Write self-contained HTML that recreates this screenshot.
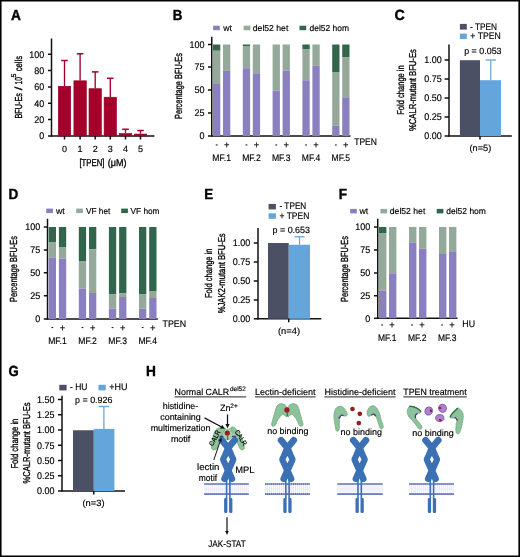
<!DOCTYPE html>
<html><head><meta charset="utf-8"><style>
html,body{margin:0;padding:0;background:#fff;}
svg{display:block;will-change:transform;}
text{font-family:"Liberation Sans", sans-serif;text-rendering:geometricPrecision;stroke:#000;stroke-width:0.16px;}
text.c{stroke-width:0.34px;}
</style></head><body>
<svg width="520" height="557" viewBox="0 0 520 557">
<rect width="520" height="557" fill="#fff"/>
<text x="11.1" y="19.8" font-size="14.6" font-weight="bold" fill="#000" textLength="9.9" lengthAdjust="spacingAndGlyphs" style="stroke-width:0.4px">A</text>
<line x1="51.5" y1="38.5" x2="51.5" y2="136.6" stroke="#111" stroke-width="1.5"/>
<line x1="50.9" y1="136" x2="154.5" y2="136" stroke="#111" stroke-width="1.5"/>
<line x1="48" y1="136" x2="51.5" y2="136" stroke="#111" stroke-width="1.5"/>
<text x="44.3" y="139.45" font-size="9.6" text-anchor="end" font-weight="normal" fill="#000" textLength="5.0" lengthAdjust="spacingAndGlyphs" >0</text>
<line x1="48" y1="119.5" x2="51.5" y2="119.5" stroke="#111" stroke-width="1.5"/>
<text x="44.3" y="122.95" font-size="9.6" text-anchor="end" font-weight="normal" fill="#000" textLength="10.01" lengthAdjust="spacingAndGlyphs" >20</text>
<line x1="48" y1="103.25" x2="51.5" y2="103.25" stroke="#111" stroke-width="1.5"/>
<text x="44.3" y="106.7" font-size="9.6" text-anchor="end" font-weight="normal" fill="#000" textLength="10.01" lengthAdjust="spacingAndGlyphs" >40</text>
<line x1="48" y1="87" x2="51.5" y2="87" stroke="#111" stroke-width="1.5"/>
<text x="44.3" y="90.45" font-size="9.6" text-anchor="end" font-weight="normal" fill="#000" textLength="10.01" lengthAdjust="spacingAndGlyphs" >60</text>
<line x1="48" y1="70.5" x2="51.5" y2="70.5" stroke="#111" stroke-width="1.5"/>
<text x="44.3" y="73.95" font-size="9.6" text-anchor="end" font-weight="normal" fill="#000" textLength="10.01" lengthAdjust="spacingAndGlyphs" >80</text>
<line x1="48" y1="54.25" x2="51.5" y2="54.25" stroke="#111" stroke-width="1.5"/>
<text x="44.3" y="57.7" font-size="9.6" text-anchor="end" font-weight="normal" fill="#000" textLength="15.01" lengthAdjust="spacingAndGlyphs" >100</text>
<rect x="58.30" y="86.30" width="12.4" height="49.70" fill="#A3002B" stroke="#93001F" stroke-width="0.6"/>
<line x1="64.5" y1="60.5" x2="64.5" y2="86" stroke="#A3002B" stroke-width="1.35"/>
<line x1="61.2" y1="60.5" x2="67.8" y2="60.5" stroke="#A3002B" stroke-width="1.5"/>
<line x1="64.5" y1="136" x2="64.5" y2="139.5" stroke="#111" stroke-width="1.5"/>
<text x="64.5" y="151.5" font-size="9" text-anchor="middle" font-weight="normal" fill="#000" >0</text>
<rect x="73.90" y="80.80" width="12.4" height="55.20" fill="#A3002B" stroke="#93001F" stroke-width="0.6"/>
<line x1="80.1" y1="53.75" x2="80.1" y2="80.5" stroke="#A3002B" stroke-width="1.35"/>
<line x1="76.8" y1="53.75" x2="83.39999999999999" y2="53.75" stroke="#A3002B" stroke-width="1.5"/>
<line x1="80.1" y1="136" x2="80.1" y2="139.5" stroke="#111" stroke-width="1.5"/>
<text x="80.1" y="151.5" font-size="9" text-anchor="middle" font-weight="normal" fill="#000" >1</text>
<rect x="89.00" y="88.70" width="12.4" height="47.30" fill="#A3002B" stroke="#93001F" stroke-width="0.6"/>
<line x1="95.2" y1="71.9" x2="95.2" y2="88.4" stroke="#A3002B" stroke-width="1.35"/>
<line x1="91.9" y1="71.9" x2="98.5" y2="71.9" stroke="#A3002B" stroke-width="1.5"/>
<line x1="95.2" y1="136" x2="95.2" y2="139.5" stroke="#111" stroke-width="1.5"/>
<text x="95.2" y="151.5" font-size="9" text-anchor="middle" font-weight="normal" fill="#000" >2</text>
<rect x="104.10" y="97.20" width="12.4" height="38.80" fill="#A3002B" stroke="#93001F" stroke-width="0.6"/>
<line x1="110.3" y1="78.3" x2="110.3" y2="96.9" stroke="#A3002B" stroke-width="1.35"/>
<line x1="107.0" y1="78.3" x2="113.6" y2="78.3" stroke="#A3002B" stroke-width="1.5"/>
<line x1="110.3" y1="136" x2="110.3" y2="139.5" stroke="#111" stroke-width="1.5"/>
<text x="110.3" y="151.5" font-size="9" text-anchor="middle" font-weight="normal" fill="#000" >3</text>
<rect x="119.30" y="133.55" width="12.4" height="2.45" fill="#A3002B" stroke="#93001F" stroke-width="0.6"/>
<line x1="125.5" y1="129.25" x2="125.5" y2="133.25" stroke="#A3002B" stroke-width="1.35"/>
<line x1="122.2" y1="129.25" x2="128.8" y2="129.25" stroke="#A3002B" stroke-width="1.5"/>
<line x1="125.5" y1="136" x2="125.5" y2="139.5" stroke="#111" stroke-width="1.5"/>
<text x="125.5" y="151.5" font-size="9" text-anchor="middle" font-weight="normal" fill="#000" >4</text>
<rect x="134.30" y="134.05" width="12.4" height="1.95" fill="#A3002B" stroke="#93001F" stroke-width="0.6"/>
<line x1="140.5" y1="130.5" x2="140.5" y2="133.75" stroke="#A3002B" stroke-width="1.35"/>
<line x1="137.2" y1="130.5" x2="143.8" y2="130.5" stroke="#A3002B" stroke-width="1.5"/>
<line x1="140.5" y1="136" x2="140.5" y2="139.5" stroke="#111" stroke-width="1.5"/>
<text x="140.5" y="151.5" font-size="9" text-anchor="middle" font-weight="normal" fill="#000" >5</text>
<text x="79.4" y="166" font-size="10" text-anchor="start" font-weight="normal" fill="#000" textLength="25.0" lengthAdjust="spacingAndGlyphs" class="c">[TPEN]</text>
<text x="107.8" y="166" font-size="10" text-anchor="start" font-weight="normal" fill="#000" textLength="18.6" lengthAdjust="spacingAndGlyphs" class="c">(μM)</text>
<text class="c" transform="translate(22.1,118.5) rotate(-90)" font-size="10.2" fill="#000" textLength="25.4" lengthAdjust="spacingAndGlyphs">BFU-Es</text>
<text class="c" transform="translate(22.1,90.2) rotate(-90)" font-size="10.2" fill="#000" textLength="3.6" lengthAdjust="spacingAndGlyphs">/</text>
<text class="c" transform="translate(22.1,84.4) rotate(-90)" font-size="10.2" fill="#000" textLength="7.4" lengthAdjust="spacingAndGlyphs">10</text>
<text class="c" transform="translate(16.0,77.6) rotate(-90)" font-size="6.6" fill="#000" textLength="3.8" lengthAdjust="spacingAndGlyphs">5</text>
<text class="c" transform="translate(22.1,71.3) rotate(-90)" font-size="10.2" fill="#000" textLength="15.4" lengthAdjust="spacingAndGlyphs">cells</text>
<text x="172.7" y="19.8" font-size="14.6" font-weight="bold" fill="#000" textLength="9.6" lengthAdjust="spacingAndGlyphs" style="stroke-width:0.4px">B</text>
<rect x="213.10" y="25.70" width="6.70" height="4.50" fill="#8A80C0"/>
<text x="223.2" y="30.6" font-size="8.6" text-anchor="start" font-weight="normal" fill="#000" textLength="8.7" lengthAdjust="spacingAndGlyphs" >wt</text>
<rect x="243.60" y="25.70" width="6.70" height="4.50" fill="#95A99A"/>
<text x="252.8" y="30.6" font-size="8.6" text-anchor="start" font-weight="normal" fill="#000" textLength="35.5" lengthAdjust="spacingAndGlyphs" >del52 het</text>
<rect x="299.50" y="25.70" width="6.70" height="4.50" fill="#32664C"/>
<text x="309.5" y="30.6" font-size="8.6" text-anchor="start" font-weight="normal" fill="#000" textLength="39.6" lengthAdjust="spacingAndGlyphs" >del52 hom</text>
<line x1="211.75" y1="36.75" x2="211.75" y2="136.6" stroke="#111" stroke-width="1.5"/>
<line x1="211.1" y1="136" x2="350.5" y2="136" stroke="#111" stroke-width="1.5"/>
<line x1="208" y1="136" x2="211.75" y2="136" stroke="#111" stroke-width="1.5"/>
<text x="204.6" y="139.45" font-size="9.6" text-anchor="end" font-weight="normal" fill="#000" textLength="5.0" lengthAdjust="spacingAndGlyphs" >0</text>
<line x1="208" y1="113" x2="211.75" y2="113" stroke="#111" stroke-width="1.5"/>
<text x="204.6" y="116.45" font-size="9.6" text-anchor="end" font-weight="normal" fill="#000" textLength="10.01" lengthAdjust="spacingAndGlyphs" >25</text>
<line x1="208" y1="90" x2="211.75" y2="90" stroke="#111" stroke-width="1.5"/>
<text x="204.6" y="93.45" font-size="9.6" text-anchor="end" font-weight="normal" fill="#000" textLength="10.01" lengthAdjust="spacingAndGlyphs" >50</text>
<line x1="208" y1="67" x2="211.75" y2="67" stroke="#111" stroke-width="1.5"/>
<text x="204.6" y="70.45" font-size="9.6" text-anchor="end" font-weight="normal" fill="#000" textLength="10.01" lengthAdjust="spacingAndGlyphs" >75</text>
<line x1="208" y1="44.5" x2="211.75" y2="44.5" stroke="#111" stroke-width="1.5"/>
<text x="204.6" y="47.95" font-size="9.6" text-anchor="end" font-weight="normal" fill="#000" textLength="15.01" lengthAdjust="spacingAndGlyphs" >100</text>
<rect x="213.00" y="44.50" width="7.30" height="6.25" fill="#32664C"/>
<rect x="213.00" y="50.75" width="7.30" height="33.25" fill="#95A99A"/>
<rect x="213.00" y="84.00" width="7.30" height="52.00" fill="#8A80C0"/>
<rect x="215.75" y="144.40" width="1.80" height="1.10" fill="#222"/>
<rect x="223.00" y="44.50" width="7.30" height="26.25" fill="#95A99A"/>
<rect x="223.00" y="70.75" width="7.30" height="65.25" fill="#8A80C0"/>
<text x="226.65" y="148.0" font-size="9.4" text-anchor="middle" font-weight="normal" fill="#000" >+</text>
<rect x="242.80" y="44.50" width="7.30" height="1.50" fill="#32664C"/>
<rect x="242.80" y="46.00" width="7.30" height="22.25" fill="#95A99A"/>
<rect x="242.80" y="68.25" width="7.30" height="67.75" fill="#8A80C0"/>
<rect x="245.55" y="144.40" width="1.80" height="1.10" fill="#222"/>
<rect x="252.80" y="44.50" width="7.30" height="28.75" fill="#95A99A"/>
<rect x="252.80" y="73.25" width="7.30" height="62.75" fill="#8A80C0"/>
<text x="256.45" y="148.0" font-size="9.4" text-anchor="middle" font-weight="normal" fill="#000" >+</text>
<rect x="272.60" y="44.50" width="7.30" height="46.00" fill="#95A99A"/>
<rect x="272.60" y="90.50" width="7.30" height="45.50" fill="#8A80C0"/>
<rect x="275.35" y="144.40" width="1.80" height="1.10" fill="#222"/>
<rect x="282.60" y="44.50" width="7.30" height="26.00" fill="#95A99A"/>
<rect x="282.60" y="70.50" width="7.30" height="65.50" fill="#8A80C0"/>
<text x="286.25" y="148.0" font-size="9.4" text-anchor="middle" font-weight="normal" fill="#000" >+</text>
<rect x="302.40" y="44.50" width="7.30" height="5.00" fill="#32664C"/>
<rect x="302.40" y="49.50" width="7.30" height="30.75" fill="#95A99A"/>
<rect x="302.40" y="80.25" width="7.30" height="55.75" fill="#8A80C0"/>
<rect x="305.15" y="144.40" width="1.80" height="1.10" fill="#222"/>
<rect x="312.40" y="44.50" width="7.30" height="21.25" fill="#95A99A"/>
<rect x="312.40" y="65.75" width="7.30" height="70.25" fill="#8A80C0"/>
<text x="316.04999999999995" y="148.0" font-size="9.4" text-anchor="middle" font-weight="normal" fill="#000" >+</text>
<rect x="332.20" y="44.50" width="7.30" height="27.50" fill="#32664C"/>
<rect x="332.20" y="72.00" width="7.30" height="53.75" fill="#95A99A"/>
<rect x="332.20" y="125.75" width="7.30" height="10.25" fill="#8A80C0"/>
<rect x="334.95" y="144.40" width="1.80" height="1.10" fill="#222"/>
<rect x="342.20" y="44.50" width="7.30" height="13.00" fill="#32664C"/>
<rect x="342.20" y="57.50" width="7.30" height="39.75" fill="#95A99A"/>
<rect x="342.20" y="97.25" width="7.30" height="38.75" fill="#8A80C0"/>
<text x="345.84999999999997" y="148.0" font-size="9.4" text-anchor="middle" font-weight="normal" fill="#000" >+</text>
<text x="221.65" y="161.2" font-size="9.4" text-anchor="middle" font-weight="normal" fill="#000" textLength="18.6" lengthAdjust="spacingAndGlyphs" >MF.1</text>
<text x="251.45000000000002" y="161.2" font-size="9.4" text-anchor="middle" font-weight="normal" fill="#000" textLength="18.6" lengthAdjust="spacingAndGlyphs" >MF.2</text>
<text x="281.25" y="161.2" font-size="9.4" text-anchor="middle" font-weight="normal" fill="#000" textLength="18.6" lengthAdjust="spacingAndGlyphs" >MF.3</text>
<text x="311.04999999999995" y="161.2" font-size="9.4" text-anchor="middle" font-weight="normal" fill="#000" textLength="18.6" lengthAdjust="spacingAndGlyphs" >MF.4</text>
<text x="340.84999999999997" y="161.2" font-size="9.4" text-anchor="middle" font-weight="normal" fill="#000" textLength="18.6" lengthAdjust="spacingAndGlyphs" >MF.5</text>
<text x="354.2" y="145" font-size="9.4" text-anchor="start" font-weight="normal" fill="#000" textLength="22.8" lengthAdjust="spacingAndGlyphs" >TPEN</text>
<text x="394.6" y="19.8" font-size="14.6" font-weight="bold" fill="#000" textLength="10.3" lengthAdjust="spacingAndGlyphs" style="stroke-width:0.4px">C</text>
<rect x="459.90" y="23.90" width="6.90" height="5.70" fill="#4B5064"/>
<rect x="459.90" y="33.60" width="6.90" height="5.50" fill="#64A6DC"/>
<text x="470" y="29.5" font-size="9.4" text-anchor="start" font-weight="normal" fill="#000" textLength="27" lengthAdjust="spacingAndGlyphs" >- TPEN</text>
<text x="470.3" y="39.0" font-size="9.4" text-anchor="start" font-weight="normal" fill="#000" textLength="30.5" lengthAdjust="spacingAndGlyphs" >+ TPEN</text>
<line x1="449" y1="44.6" x2="449" y2="136.6" stroke="#111" stroke-width="1.5"/>
<line x1="448.4" y1="136" x2="511.8" y2="136" stroke="#111" stroke-width="1.5"/>
<line x1="444.6" y1="136" x2="449" y2="136" stroke="#111" stroke-width="1.5"/>
<text x="441.8" y="139.45" font-size="9.6" text-anchor="end" font-weight="normal" fill="#000" textLength="17.51" lengthAdjust="spacingAndGlyphs" >0.00</text>
<line x1="444.6" y1="117" x2="449" y2="117" stroke="#111" stroke-width="1.5"/>
<text x="441.8" y="120.45" font-size="9.6" text-anchor="end" font-weight="normal" fill="#000" textLength="17.51" lengthAdjust="spacingAndGlyphs" >0.25</text>
<line x1="444.6" y1="98" x2="449" y2="98" stroke="#111" stroke-width="1.5"/>
<text x="441.8" y="101.45" font-size="9.6" text-anchor="end" font-weight="normal" fill="#000" textLength="17.51" lengthAdjust="spacingAndGlyphs" >0.50</text>
<line x1="444.6" y1="79" x2="449" y2="79" stroke="#111" stroke-width="1.5"/>
<text x="441.8" y="82.45" font-size="9.6" text-anchor="end" font-weight="normal" fill="#000" textLength="17.51" lengthAdjust="spacingAndGlyphs" >0.75</text>
<line x1="444.6" y1="60" x2="449" y2="60" stroke="#111" stroke-width="1.5"/>
<text x="441.8" y="63.45" font-size="9.6" text-anchor="end" font-weight="normal" fill="#000" textLength="17.51" lengthAdjust="spacingAndGlyphs" >1.00</text>
<rect x="459.90" y="60.20" width="20.10" height="75.80" fill="#4B5064"/>
<rect x="480.00" y="80.20" width="21.00" height="55.80" fill="#64A6DC"/>
<line x1="490.8" y1="60" x2="490.8" y2="80.2" stroke="#64A6DC" stroke-width="1.2"/>
<line x1="485.6" y1="60" x2="496.1" y2="60" stroke="#64A6DC" stroke-width="1.3"/>
<line x1="480" y1="136" x2="480" y2="139.5" stroke="#111" stroke-width="1.5"/>
<text x="464.2" y="53.5" font-size="9" text-anchor="start" font-weight="normal" fill="#000" textLength="37.4" lengthAdjust="spacingAndGlyphs" >p = 0.053</text>
<text x="469.5" y="151.2" font-size="9" text-anchor="start" font-weight="normal" fill="#000" textLength="21.7" lengthAdjust="spacingAndGlyphs" >(n=5)</text>
<text class="c" transform="translate(404.2,90.0) rotate(-90)" x="0" y="0" font-size="10" text-anchor="middle" fill="#000" textLength="49.5" lengthAdjust="spacingAndGlyphs">Fold change in</text>
<text class="c" transform="translate(416.3,90.1) rotate(-90)" x="0" y="0" font-size="10" text-anchor="middle" fill="#000" textLength="81.8" lengthAdjust="spacingAndGlyphs">%CALR-mutant BFU-Es</text>
<text class="c" transform="translate(181.6,86.0) rotate(-90)" x="0" y="0" font-size="10.3" text-anchor="middle" fill="#000" textLength="65.8" lengthAdjust="spacingAndGlyphs">Percentage BFU-Es</text>
<text x="8.5" y="198.8" font-size="14.6" font-weight="bold" fill="#000" textLength="9.8" lengthAdjust="spacingAndGlyphs" style="stroke-width:0.4px">D</text>
<rect x="46.20" y="208.60" width="6.70" height="4.50" fill="#8A80C0"/>
<text x="56" y="213.5" font-size="8.6" text-anchor="start" font-weight="normal" fill="#000" textLength="8.7" lengthAdjust="spacingAndGlyphs" >wt</text>
<rect x="76.20" y="208.60" width="6.70" height="4.50" fill="#95A99A"/>
<text x="86" y="213.5" font-size="8.6" text-anchor="start" font-weight="normal" fill="#000" textLength="24.3" lengthAdjust="spacingAndGlyphs" >VF het</text>
<rect x="121.20" y="208.60" width="6.70" height="4.50" fill="#32664C"/>
<text x="130.5" y="213.5" font-size="8.6" text-anchor="start" font-weight="normal" fill="#000" textLength="29.0" lengthAdjust="spacingAndGlyphs" >VF hom</text>
<line x1="47.5" y1="218.75" x2="47.5" y2="319.6" stroke="#111" stroke-width="1.5"/>
<line x1="46.9" y1="319" x2="157.8" y2="319" stroke="#111" stroke-width="1.5"/>
<line x1="43.8" y1="319" x2="47.5" y2="319" stroke="#111" stroke-width="1.5"/>
<text x="40.2" y="322.45" font-size="9.6" text-anchor="end" font-weight="normal" fill="#000" textLength="5.0" lengthAdjust="spacingAndGlyphs" >0</text>
<line x1="43.8" y1="295.75" x2="47.5" y2="295.75" stroke="#111" stroke-width="1.5"/>
<text x="40.2" y="299.2" font-size="9.6" text-anchor="end" font-weight="normal" fill="#000" textLength="10.01" lengthAdjust="spacingAndGlyphs" >25</text>
<line x1="43.8" y1="272.75" x2="47.5" y2="272.75" stroke="#111" stroke-width="1.5"/>
<text x="40.2" y="276.2" font-size="9.6" text-anchor="end" font-weight="normal" fill="#000" textLength="10.01" lengthAdjust="spacingAndGlyphs" >50</text>
<line x1="43.8" y1="250" x2="47.5" y2="250" stroke="#111" stroke-width="1.5"/>
<text x="40.2" y="253.45" font-size="9.6" text-anchor="end" font-weight="normal" fill="#000" textLength="10.01" lengthAdjust="spacingAndGlyphs" >75</text>
<line x1="43.8" y1="227" x2="47.5" y2="227" stroke="#111" stroke-width="1.5"/>
<text x="40.2" y="230.45" font-size="9.6" text-anchor="end" font-weight="normal" fill="#000" textLength="15.01" lengthAdjust="spacingAndGlyphs" >100</text>
<rect x="48.70" y="227.00" width="7.30" height="15.50" fill="#32664C"/>
<rect x="48.70" y="242.50" width="7.30" height="15.00" fill="#95A99A"/>
<rect x="48.70" y="257.50" width="7.30" height="61.50" fill="#8A80C0"/>
<rect x="51.45" y="327.00" width="1.80" height="1.10" fill="#222"/>
<rect x="58.90" y="227.00" width="7.30" height="20.00" fill="#32664C"/>
<rect x="58.90" y="247.00" width="7.30" height="11.75" fill="#95A99A"/>
<rect x="58.90" y="258.75" width="7.30" height="60.25" fill="#8A80C0"/>
<text x="62.550000000000004" y="330.6" font-size="9.4" text-anchor="middle" font-weight="normal" fill="#000" >+</text>
<rect x="78.80" y="227.00" width="7.30" height="34.00" fill="#32664C"/>
<rect x="78.80" y="261.00" width="7.30" height="27.50" fill="#95A99A"/>
<rect x="78.80" y="288.50" width="7.30" height="30.50" fill="#8A80C0"/>
<rect x="81.55" y="327.00" width="1.80" height="1.10" fill="#222"/>
<rect x="89.00" y="227.00" width="7.30" height="22.25" fill="#32664C"/>
<rect x="89.00" y="249.25" width="7.30" height="43.75" fill="#95A99A"/>
<rect x="89.00" y="293.00" width="7.30" height="26.00" fill="#8A80C0"/>
<text x="92.65000000000002" y="330.6" font-size="9.4" text-anchor="middle" font-weight="normal" fill="#000" >+</text>
<rect x="108.90" y="227.00" width="7.30" height="67.50" fill="#32664C"/>
<rect x="108.90" y="294.50" width="7.30" height="14.00" fill="#95A99A"/>
<rect x="108.90" y="308.50" width="7.30" height="10.50" fill="#8A80C0"/>
<rect x="111.65" y="327.00" width="1.80" height="1.10" fill="#222"/>
<rect x="119.10" y="227.00" width="7.30" height="66.50" fill="#32664C"/>
<rect x="119.10" y="293.50" width="7.30" height="3.50" fill="#95A99A"/>
<rect x="119.10" y="297.00" width="7.30" height="22.00" fill="#8A80C0"/>
<text x="122.75000000000001" y="330.6" font-size="9.4" text-anchor="middle" font-weight="normal" fill="#000" >+</text>
<rect x="139.00" y="227.00" width="7.30" height="67.50" fill="#32664C"/>
<rect x="139.00" y="294.50" width="7.30" height="14.00" fill="#95A99A"/>
<rect x="139.00" y="308.50" width="7.30" height="10.50" fill="#8A80C0"/>
<rect x="141.75" y="327.00" width="1.80" height="1.10" fill="#222"/>
<rect x="149.20" y="227.00" width="7.30" height="64.00" fill="#32664C"/>
<rect x="149.20" y="291.00" width="7.30" height="7.00" fill="#95A99A"/>
<rect x="149.20" y="298.00" width="7.30" height="21.00" fill="#8A80C0"/>
<text x="152.85" y="330.6" font-size="9.4" text-anchor="middle" font-weight="normal" fill="#000" >+</text>
<text x="57.45" y="344.1" font-size="9.4" text-anchor="middle" font-weight="normal" fill="#000" textLength="18.6" lengthAdjust="spacingAndGlyphs" >MF.1</text>
<text x="87.55000000000001" y="344.1" font-size="9.4" text-anchor="middle" font-weight="normal" fill="#000" textLength="18.6" lengthAdjust="spacingAndGlyphs" >MF.2</text>
<text x="117.65" y="344.1" font-size="9.4" text-anchor="middle" font-weight="normal" fill="#000" textLength="18.6" lengthAdjust="spacingAndGlyphs" >MF.3</text>
<text x="147.75" y="344.1" font-size="9.4" text-anchor="middle" font-weight="normal" fill="#000" textLength="18.6" lengthAdjust="spacingAndGlyphs" >MF.4</text>
<text x="162.5" y="327.2" font-size="9.4" text-anchor="start" font-weight="normal" fill="#000" textLength="23.6" lengthAdjust="spacingAndGlyphs" >TPEN</text>
<text class="c" transform="translate(17.3,269.0) rotate(-90)" x="0" y="0" font-size="10.3" text-anchor="middle" fill="#000" textLength="65.8" lengthAdjust="spacingAndGlyphs">Percentage BFU-Es</text>
<text x="204.3" y="199.2" font-size="14.6" font-weight="bold" fill="#000" textLength="8.9" lengthAdjust="spacingAndGlyphs" style="stroke-width:0.4px">E</text>
<rect x="268.60" y="203.90" width="7.30" height="5.50" fill="#4B5064"/>
<rect x="268.60" y="213.30" width="7.30" height="5.50" fill="#64A6DC"/>
<text x="279.5" y="209.1" font-size="9.4" text-anchor="start" font-weight="normal" fill="#000" textLength="26.8" lengthAdjust="spacingAndGlyphs" >- TPEN</text>
<text x="279.5" y="218.5" font-size="9.4" text-anchor="start" font-weight="normal" fill="#000" textLength="29.8" lengthAdjust="spacingAndGlyphs" >+ TPEN</text>
<line x1="258" y1="228" x2="258" y2="319.4" stroke="#111" stroke-width="1.5"/>
<line x1="257.4" y1="318.8" x2="321.3" y2="318.8" stroke="#111" stroke-width="1.5"/>
<line x1="253.8" y1="318.8" x2="258" y2="318.8" stroke="#111" stroke-width="1.5"/>
<text x="250.2" y="322.25" font-size="9.6" text-anchor="end" font-weight="normal" fill="#000" textLength="17.51" lengthAdjust="spacingAndGlyphs" >0.00</text>
<line x1="253.8" y1="300" x2="258" y2="300" stroke="#111" stroke-width="1.5"/>
<text x="250.2" y="303.45" font-size="9.6" text-anchor="end" font-weight="normal" fill="#000" textLength="17.51" lengthAdjust="spacingAndGlyphs" >0.25</text>
<line x1="253.8" y1="281" x2="258" y2="281" stroke="#111" stroke-width="1.5"/>
<text x="250.2" y="284.45" font-size="9.6" text-anchor="end" font-weight="normal" fill="#000" textLength="17.51" lengthAdjust="spacingAndGlyphs" >0.50</text>
<line x1="253.8" y1="262" x2="258" y2="262" stroke="#111" stroke-width="1.5"/>
<text x="250.2" y="265.45" font-size="9.6" text-anchor="end" font-weight="normal" fill="#000" textLength="17.51" lengthAdjust="spacingAndGlyphs" >0.75</text>
<line x1="253.8" y1="243" x2="258" y2="243" stroke="#111" stroke-width="1.5"/>
<text x="250.2" y="246.45" font-size="9.6" text-anchor="end" font-weight="normal" fill="#000" textLength="17.51" lengthAdjust="spacingAndGlyphs" >1.00</text>
<rect x="268.00" y="243.00" width="20.75" height="75.80" fill="#4B5064"/>
<rect x="288.75" y="244.75" width="21.25" height="74.05" fill="#64A6DC"/>
<line x1="299.5" y1="236.75" x2="299.5" y2="244.75" stroke="#64A6DC" stroke-width="1.2"/>
<line x1="294.5" y1="236.75" x2="304.5" y2="236.75" stroke="#64A6DC" stroke-width="1.3"/>
<line x1="288.75" y1="318.8" x2="288.75" y2="322.3" stroke="#111" stroke-width="1.5"/>
<text x="272.5" y="233.0" font-size="9" text-anchor="start" font-weight="normal" fill="#000" textLength="37.5" lengthAdjust="spacingAndGlyphs" >p = 0.653</text>
<text x="278" y="334.2" font-size="9" text-anchor="start" font-weight="normal" fill="#000" textLength="22" lengthAdjust="spacingAndGlyphs" >(n=4)</text>
<text class="c" transform="translate(212.2,273.25) rotate(-90)" x="0" y="0" font-size="10" text-anchor="middle" fill="#000" textLength="49.5" lengthAdjust="spacingAndGlyphs">Fold change in</text>
<text class="c" transform="translate(224.8,273.3) rotate(-90)" x="0" y="0" font-size="10" text-anchor="middle" fill="#000" textLength="80.0" lengthAdjust="spacingAndGlyphs">%JAK2-mutant BFU-Es</text>
<text x="338.7" y="199.2" font-size="14.6" font-weight="bold" fill="#000" textLength="8.3" lengthAdjust="spacingAndGlyphs" style="stroke-width:0.4px">F</text>
<rect x="350.10" y="208.90" width="6.70" height="4.50" fill="#8A80C0"/>
<text x="359.5" y="213.8" font-size="8.6" text-anchor="start" font-weight="normal" fill="#000" textLength="8.7" lengthAdjust="spacingAndGlyphs" >wt</text>
<rect x="380.40" y="208.90" width="6.70" height="4.50" fill="#95A99A"/>
<text x="389.8" y="213.8" font-size="8.6" text-anchor="start" font-weight="normal" fill="#000" textLength="35.5" lengthAdjust="spacingAndGlyphs" >del52 het</text>
<rect x="436.70" y="208.90" width="6.70" height="4.50" fill="#32664C"/>
<text x="446.3" y="213.8" font-size="8.6" text-anchor="start" font-weight="normal" fill="#000" textLength="39.6" lengthAdjust="spacingAndGlyphs" >del52 hom</text>
<line x1="377.75" y1="218.75" x2="377.75" y2="318.9" stroke="#111" stroke-width="1.5"/>
<line x1="377.1" y1="318.3" x2="457.5" y2="318.3" stroke="#111" stroke-width="1.5"/>
<line x1="374" y1="318.3" x2="377.75" y2="318.3" stroke="#111" stroke-width="1.5"/>
<text x="370.2" y="321.75" font-size="9.6" text-anchor="end" font-weight="normal" fill="#000" textLength="5.0" lengthAdjust="spacingAndGlyphs" >0</text>
<line x1="374" y1="295.75" x2="377.75" y2="295.75" stroke="#111" stroke-width="1.5"/>
<text x="370.2" y="299.2" font-size="9.6" text-anchor="end" font-weight="normal" fill="#000" textLength="10.01" lengthAdjust="spacingAndGlyphs" >25</text>
<line x1="374" y1="273" x2="377.75" y2="273" stroke="#111" stroke-width="1.5"/>
<text x="370.2" y="276.45" font-size="9.6" text-anchor="end" font-weight="normal" fill="#000" textLength="10.01" lengthAdjust="spacingAndGlyphs" >50</text>
<line x1="374" y1="250" x2="377.75" y2="250" stroke="#111" stroke-width="1.5"/>
<text x="370.2" y="253.45" font-size="9.6" text-anchor="end" font-weight="normal" fill="#000" textLength="10.01" lengthAdjust="spacingAndGlyphs" >75</text>
<line x1="374" y1="227" x2="377.75" y2="227" stroke="#111" stroke-width="1.5"/>
<text x="370.2" y="230.45" font-size="9.6" text-anchor="end" font-weight="normal" fill="#000" textLength="15.01" lengthAdjust="spacingAndGlyphs" >100</text>
<rect x="379.00" y="227.00" width="7.40" height="6.00" fill="#32664C"/>
<rect x="379.00" y="233.00" width="7.40" height="57.50" fill="#95A99A"/>
<rect x="379.00" y="290.50" width="7.40" height="27.80" fill="#8A80C0"/>
<rect x="381.20" y="324.40" width="1.80" height="1.10" fill="#222"/>
<rect x="389.00" y="227.00" width="7.40" height="46.25" fill="#95A99A"/>
<rect x="389.00" y="273.25" width="7.40" height="45.05" fill="#8A80C0"/>
<text x="392.1" y="328.0" font-size="9.4" text-anchor="middle" font-weight="normal" fill="#000" >+</text>
<rect x="409.00" y="227.00" width="7.40" height="15.50" fill="#95A99A"/>
<rect x="409.00" y="242.50" width="7.40" height="75.80" fill="#8A80C0"/>
<rect x="411.20" y="324.40" width="1.80" height="1.10" fill="#222"/>
<rect x="419.00" y="227.00" width="7.40" height="21.75" fill="#95A99A"/>
<rect x="419.00" y="248.75" width="7.40" height="69.55" fill="#8A80C0"/>
<text x="422.1" y="328.0" font-size="9.4" text-anchor="middle" font-weight="normal" fill="#000" >+</text>
<rect x="439.00" y="227.00" width="7.40" height="27.00" fill="#95A99A"/>
<rect x="439.00" y="254.00" width="7.40" height="64.30" fill="#8A80C0"/>
<rect x="441.20" y="324.40" width="1.80" height="1.10" fill="#222"/>
<rect x="449.00" y="227.00" width="7.40" height="25.00" fill="#95A99A"/>
<rect x="449.00" y="252.00" width="7.40" height="66.30" fill="#8A80C0"/>
<text x="452.1" y="328.0" font-size="9.4" text-anchor="middle" font-weight="normal" fill="#000" >+</text>
<text x="387.2" y="341.0" font-size="9.4" text-anchor="middle" font-weight="normal" fill="#000" textLength="18.4" lengthAdjust="spacingAndGlyphs" >MF.1</text>
<text x="417.2" y="341.0" font-size="9.4" text-anchor="middle" font-weight="normal" fill="#000" textLength="18.4" lengthAdjust="spacingAndGlyphs" >MF.2</text>
<text x="447.2" y="341.0" font-size="9.4" text-anchor="middle" font-weight="normal" fill="#000" textLength="18.4" lengthAdjust="spacingAndGlyphs" >MF.3</text>
<text x="462.3" y="326.8" font-size="9.4" text-anchor="start" font-weight="normal" fill="#000" textLength="12.7" lengthAdjust="spacingAndGlyphs" >HU</text>
<text class="c" transform="translate(347.6,269.0) rotate(-90)" x="0" y="0" font-size="10.3" text-anchor="middle" fill="#000" textLength="65.8" lengthAdjust="spacingAndGlyphs">Percentage BFU-Es</text>
<text x="8.5" y="376.2" font-size="14.6" font-weight="bold" fill="#000" textLength="10.2" lengthAdjust="spacingAndGlyphs" style="stroke-width:0.4px">G</text>
<rect x="59.30" y="384.80" width="7.30" height="5.60" fill="#4B5064"/>
<rect x="98.50" y="384.80" width="7.30" height="5.60" fill="#64A6DC"/>
<text x="70" y="390.3" font-size="9.4" text-anchor="start" font-weight="normal" fill="#000" textLength="17.5" lengthAdjust="spacingAndGlyphs" >- HU</text>
<text x="109.3" y="390.3" font-size="9.4" text-anchor="start" font-weight="normal" fill="#000" textLength="18.2" lengthAdjust="spacingAndGlyphs" >+HU</text>
<line x1="62" y1="395.75" x2="62" y2="491.6" stroke="#111" stroke-width="1.5"/>
<line x1="61.4" y1="491" x2="125" y2="491" stroke="#111" stroke-width="1.5"/>
<line x1="58" y1="491" x2="62" y2="491" stroke="#111" stroke-width="1.5"/>
<text x="54.5" y="494.45" font-size="9.6" text-anchor="end" font-weight="normal" fill="#000" textLength="17.51" lengthAdjust="spacingAndGlyphs" >0.00</text>
<line x1="58" y1="475.75" x2="62" y2="475.75" stroke="#111" stroke-width="1.5"/>
<text x="54.5" y="479.2" font-size="9.6" text-anchor="end" font-weight="normal" fill="#000" textLength="17.51" lengthAdjust="spacingAndGlyphs" >0.25</text>
<line x1="58" y1="460.5" x2="62" y2="460.5" stroke="#111" stroke-width="1.5"/>
<text x="54.5" y="463.95" font-size="9.6" text-anchor="end" font-weight="normal" fill="#000" textLength="17.51" lengthAdjust="spacingAndGlyphs" >0.50</text>
<line x1="58" y1="445.25" x2="62" y2="445.25" stroke="#111" stroke-width="1.5"/>
<text x="54.5" y="448.7" font-size="9.6" text-anchor="end" font-weight="normal" fill="#000" textLength="17.51" lengthAdjust="spacingAndGlyphs" >0.75</text>
<line x1="58" y1="430" x2="62" y2="430" stroke="#111" stroke-width="1.5"/>
<text x="54.5" y="433.45" font-size="9.6" text-anchor="end" font-weight="normal" fill="#000" textLength="17.51" lengthAdjust="spacingAndGlyphs" >1.00</text>
<line x1="58" y1="414.75" x2="62" y2="414.75" stroke="#111" stroke-width="1.5"/>
<text x="54.5" y="418.2" font-size="9.6" text-anchor="end" font-weight="normal" fill="#000" textLength="17.51" lengthAdjust="spacingAndGlyphs" >1.25</text>
<line x1="58" y1="399.5" x2="62" y2="399.5" stroke="#111" stroke-width="1.5"/>
<text x="54.5" y="402.95" font-size="9.6" text-anchor="end" font-weight="normal" fill="#000" textLength="17.51" lengthAdjust="spacingAndGlyphs" >1.50</text>
<rect x="73.00" y="430.25" width="20.80" height="60.75" fill="#4B5064"/>
<rect x="93.80" y="428.90" width="20.60" height="62.10" fill="#64A6DC"/>
<line x1="103.9" y1="406.5" x2="103.9" y2="429" stroke="#64A6DC" stroke-width="1.3"/>
<line x1="98.6" y1="406.5" x2="109.2" y2="406.5" stroke="#64A6DC" stroke-width="1.3"/>
<line x1="93.75" y1="491" x2="93.75" y2="494.5" stroke="#111" stroke-width="1.5"/>
<text x="75" y="403.0" font-size="9" text-anchor="start" font-weight="normal" fill="#000" textLength="37.5" lengthAdjust="spacingAndGlyphs" >p = 0.926</text>
<text x="82.5" y="506.3" font-size="9" text-anchor="start" font-weight="normal" fill="#000" textLength="22" lengthAdjust="spacingAndGlyphs" >(n=3)</text>
<text class="c" transform="translate(17.9,443.6) rotate(-90)" x="0" y="0" font-size="10" text-anchor="middle" fill="#000" textLength="49.9" lengthAdjust="spacingAndGlyphs">Fold change in</text>
<text class="c" transform="translate(29.6,443.0) rotate(-90)" x="0" y="0" font-size="10" text-anchor="middle" fill="#000" textLength="81.0" lengthAdjust="spacingAndGlyphs">%CALR-mutant BFU-Es</text>
<text x="146.1" y="375.8" font-size="14.6" font-weight="bold" fill="#000" textLength="9.9" lengthAdjust="spacingAndGlyphs" style="stroke-width:0.4px">H</text>
<text x="174.6" y="394.6" font-size="9" text-anchor="start" font-weight="normal" fill="#000" textLength="54.6" lengthAdjust="spacingAndGlyphs" >Normal CALR</text>
<text x="230.0" y="391.0" font-size="6.4" text-anchor="start" font-weight="normal" fill="#000" textLength="15.7" lengthAdjust="spacingAndGlyphs" >del52</text>
<text x="255.0" y="394.6" font-size="9" text-anchor="start" font-weight="normal" fill="#000" textLength="60.5" lengthAdjust="spacingAndGlyphs" >Lectin-deficient</text>
<text x="324.6" y="394.6" font-size="9" text-anchor="start" font-weight="normal" fill="#000" textLength="70.9" lengthAdjust="spacingAndGlyphs" >Histidine-deficient</text>
<text x="403.3" y="394.6" font-size="9" text-anchor="start" font-weight="normal" fill="#000" textLength="63.4" lengthAdjust="spacingAndGlyphs" >TPEN treatment</text>
<line x1="174.6" y1="396.9" x2="246.2" y2="396.9" stroke="#505050" stroke-width="1.4"/>
<line x1="255.0" y1="396.9" x2="315.6" y2="396.9" stroke="#505050" stroke-width="1.4"/>
<line x1="324.4" y1="396.9" x2="395.6" y2="396.9" stroke="#505050" stroke-width="1.4"/>
<line x1="403.3" y1="396.9" x2="466.8" y2="396.9" stroke="#505050" stroke-width="1.4"/>
<line x1="204.4" y1="489.1" x2="248.8" y2="489.1" stroke="#E2E7F5" stroke-width="8.4" stroke-dasharray="0.9 1.1"/>
<line x1="204.4" y1="489.1" x2="248.8" y2="489.1" stroke="#E4E8F6" stroke-width="0.7"/>
<line x1="204.4" y1="484" x2="248.8" y2="484" stroke="#8190CC" stroke-width="1.6"/>
<line x1="204.4" y1="484" x2="248.8" y2="484" stroke="#5E70BA" stroke-width="1.7" stroke-dasharray="1.1 0.9"/>
<line x1="204.4" y1="494.1" x2="248.8" y2="494.1" stroke="#8190CC" stroke-width="1.6"/>
<line x1="204.4" y1="494.1" x2="248.8" y2="494.1" stroke="#5E70BA" stroke-width="1.7" stroke-dasharray="1.1 0.9"/>
<line x1="265.0" y1="489.1" x2="309.8" y2="489.1" stroke="#E2E7F5" stroke-width="8.4" stroke-dasharray="0.9 1.1"/>
<line x1="265.0" y1="489.1" x2="309.8" y2="489.1" stroke="#E4E8F6" stroke-width="0.7"/>
<line x1="265.0" y1="484" x2="309.8" y2="484" stroke="#8190CC" stroke-width="1.6"/>
<line x1="265.0" y1="484" x2="309.8" y2="484" stroke="#5E70BA" stroke-width="1.7" stroke-dasharray="1.1 0.9"/>
<line x1="265.0" y1="494.1" x2="309.8" y2="494.1" stroke="#8190CC" stroke-width="1.6"/>
<line x1="265.0" y1="494.1" x2="309.8" y2="494.1" stroke="#5E70BA" stroke-width="1.7" stroke-dasharray="1.1 0.9"/>
<line x1="337.5" y1="489.1" x2="382.5" y2="489.1" stroke="#E2E7F5" stroke-width="8.4" stroke-dasharray="0.9 1.1"/>
<line x1="337.5" y1="489.1" x2="382.5" y2="489.1" stroke="#E4E8F6" stroke-width="0.7"/>
<line x1="337.5" y1="484" x2="382.5" y2="484" stroke="#8190CC" stroke-width="1.6"/>
<line x1="337.5" y1="484" x2="382.5" y2="484" stroke="#5E70BA" stroke-width="1.7" stroke-dasharray="1.1 0.9"/>
<line x1="337.5" y1="494.1" x2="382.5" y2="494.1" stroke="#8190CC" stroke-width="1.6"/>
<line x1="337.5" y1="494.1" x2="382.5" y2="494.1" stroke="#5E70BA" stroke-width="1.7" stroke-dasharray="1.1 0.9"/>
<line x1="409.3" y1="489.1" x2="453.9" y2="489.1" stroke="#E2E7F5" stroke-width="8.4" stroke-dasharray="0.9 1.1"/>
<line x1="409.3" y1="489.1" x2="453.9" y2="489.1" stroke="#E4E8F6" stroke-width="0.7"/>
<line x1="409.3" y1="484" x2="453.9" y2="484" stroke="#8190CC" stroke-width="1.6"/>
<line x1="409.3" y1="484" x2="453.9" y2="484" stroke="#5E70BA" stroke-width="1.7" stroke-dasharray="1.1 0.9"/>
<line x1="409.3" y1="494.1" x2="453.9" y2="494.1" stroke="#8190CC" stroke-width="1.6"/>
<line x1="409.3" y1="494.1" x2="453.9" y2="494.1" stroke="#5E70BA" stroke-width="1.7" stroke-dasharray="1.1 0.9"/>
<path d="M278.00,404.80 C278.93,404.02 280.38,403.80 281.50,403.80 C282.62,403.80 283.88,404.17 284.70,404.80 C285.52,405.43 286.07,405.67 286.40,407.60 C286.73,409.53 287.33,415.30 286.70,416.40 C286.07,417.50 284.10,413.60 282.60,414.20 C281.10,414.80 278.85,418.27 277.70,420.00 C276.55,421.73 276.38,423.57 275.70,424.60 C275.02,425.63 274.27,426.15 273.60,426.20 C272.93,426.25 271.85,425.93 271.70,424.90 C271.55,423.87 272.23,421.85 272.70,420.00 C273.17,418.15 273.97,415.72 274.50,413.80 C275.03,411.88 275.32,410.00 275.90,408.50 C276.48,407.00 277.07,405.58 278.00,404.80 Z" fill="#8DC39A" stroke="#79B287" stroke-width="0.7" stroke-linejoin="round"/>
<path d="M278.00,404.80 C278.93,404.02 280.38,403.80 281.50,403.80 C282.62,403.80 283.88,404.17 284.70,404.80 C285.52,405.43 286.07,405.67 286.40,407.60 C286.73,409.53 287.33,415.30 286.70,416.40 C286.07,417.50 284.10,413.60 282.60,414.20 C281.10,414.80 278.85,418.27 277.70,420.00 C276.55,421.73 276.38,423.57 275.70,424.60 C275.02,425.63 274.27,426.15 273.60,426.20 C272.93,426.25 271.85,425.93 271.70,424.90 C271.55,423.87 272.23,421.85 272.70,420.00 C273.17,418.15 273.97,415.72 274.50,413.80 C275.03,411.88 275.32,410.00 275.90,408.50 C276.48,407.00 277.07,405.58 278.00,404.80 Z" fill="none" stroke="#6CA67B" stroke-width="0.9" stroke-dasharray="0.7 0.9" opacity="0.8"/>
<path d="M296.60,404.80 C295.67,404.02 294.22,403.80 293.10,403.80 C291.98,403.80 290.72,404.17 289.90,404.80 C289.08,405.43 288.53,405.67 288.20,407.60 C287.87,409.53 287.27,415.30 287.90,416.40 C288.53,417.50 290.50,413.60 292.00,414.20 C293.50,414.80 295.75,418.27 296.90,420.00 C298.05,421.73 298.22,423.57 298.90,424.60 C299.58,425.63 300.33,426.15 301.00,426.20 C301.67,426.25 302.75,425.93 302.90,424.90 C303.05,423.87 302.37,421.85 301.90,420.00 C301.43,418.15 300.63,415.72 300.10,413.80 C299.57,411.88 299.28,410.00 298.70,408.50 C298.12,407.00 297.53,405.58 296.60,404.80 Z" fill="#8DC39A" stroke="#79B287" stroke-width="0.7" stroke-linejoin="round"/>
<path d="M296.60,404.80 C295.67,404.02 294.22,403.80 293.10,403.80 C291.98,403.80 290.72,404.17 289.90,404.80 C289.08,405.43 288.53,405.67 288.20,407.60 C287.87,409.53 287.27,415.30 287.90,416.40 C288.53,417.50 290.50,413.60 292.00,414.20 C293.50,414.80 295.75,418.27 296.90,420.00 C298.05,421.73 298.22,423.57 298.90,424.60 C299.58,425.63 300.33,426.15 301.00,426.20 C301.67,426.25 302.75,425.93 302.90,424.90 C303.05,423.87 302.37,421.85 301.90,420.00 C301.43,418.15 300.63,415.72 300.10,413.80 C299.57,411.88 299.28,410.00 298.70,408.50 C298.12,407.00 297.53,405.58 296.60,404.80 Z" fill="none" stroke="#6CA67B" stroke-width="0.9" stroke-dasharray="0.7 0.9" opacity="0.8"/>
<path d="M285.8,407.0 L288.8,407.0 L288.3,416.5 L286.3,416.5 Z" fill="#8DC39A"/>
<line x1="287.3" y1="410.5" x2="287.3" y2="416.6" stroke="#3F7D50" stroke-width="1.3"/>
<circle cx="286.90000000000003" cy="409.9" r="2.6" fill="#9B1B1E"/>
<path d="M222.8,428.4 L232.2,428.4 L233.2,436.5 L229.8,440.2 L225.4,440.2 L221.8,436.5 Z" fill="#A4D1AC"/>
<path d="M217.40,428.70 C218.55,428.13 220.92,427.20 222.20,427.20 C223.48,427.20 224.93,427.82 225.10,428.70 C225.27,429.58 223.97,431.15 223.20,432.50 C222.43,433.85 221.15,435.35 220.50,436.80 C219.85,438.25 219.92,439.27 219.30,441.20 C218.68,443.13 217.68,446.97 216.80,448.40 C215.92,449.83 214.85,449.80 214.00,449.80 C213.15,449.80 212.10,449.53 211.70,448.40 C211.30,447.27 211.32,445.17 211.60,443.00 C211.88,440.83 212.78,437.47 213.40,435.40 C214.02,433.33 214.63,431.72 215.30,430.60 C215.97,429.48 216.25,429.27 217.40,428.70 Z" fill="#8DC39A" stroke="#79B287" stroke-width="0.7" stroke-linejoin="round"/>
<path d="M217.40,428.70 C218.55,428.13 220.92,427.20 222.20,427.20 C223.48,427.20 224.93,427.82 225.10,428.70 C225.27,429.58 223.97,431.15 223.20,432.50 C222.43,433.85 221.15,435.35 220.50,436.80 C219.85,438.25 219.92,439.27 219.30,441.20 C218.68,443.13 217.68,446.97 216.80,448.40 C215.92,449.83 214.85,449.80 214.00,449.80 C213.15,449.80 212.10,449.53 211.70,448.40 C211.30,447.27 211.32,445.17 211.60,443.00 C211.88,440.83 212.78,437.47 213.40,435.40 C214.02,433.33 214.63,431.72 215.30,430.60 C215.97,429.48 216.25,429.27 217.40,428.70 Z" fill="none" stroke="#6CA67B" stroke-width="0.9" stroke-dasharray="0.7 0.9" opacity="0.8"/>
<path d="M230.90,427.70 C231.23,426.98 232.92,426.88 233.80,427.20 C234.68,427.52 235.08,428.23 236.20,429.60 C237.32,430.97 239.32,433.32 240.50,435.40 C241.68,437.48 242.67,440.02 243.30,442.10 C243.93,444.18 244.45,446.62 244.30,447.90 C244.15,449.18 243.12,449.68 242.40,449.80 C241.68,449.92 240.93,450.03 240.00,448.60 C239.07,447.17 237.60,443.25 236.80,441.20 C236.00,439.15 236.03,437.92 235.20,436.30 C234.37,434.68 232.52,432.93 231.80,431.50 C231.08,430.07 230.57,428.42 230.90,427.70 Z" fill="#8DC39A" stroke="#79B287" stroke-width="0.7" stroke-linejoin="round"/>
<path d="M230.90,427.70 C231.23,426.98 232.92,426.88 233.80,427.20 C234.68,427.52 235.08,428.23 236.20,429.60 C237.32,430.97 239.32,433.32 240.50,435.40 C241.68,437.48 242.67,440.02 243.30,442.10 C243.93,444.18 244.45,446.62 244.30,447.90 C244.15,449.18 243.12,449.68 242.40,449.80 C241.68,449.92 240.93,450.03 240.00,448.60 C239.07,447.17 237.60,443.25 236.80,441.20 C236.00,439.15 236.03,437.92 235.20,436.30 C234.37,434.68 232.52,432.93 231.80,431.50 C231.08,430.07 230.57,428.42 230.90,427.70 Z" fill="none" stroke="#6CA67B" stroke-width="0.9" stroke-dasharray="0.7 0.9" opacity="0.8"/>
<line x1="227.6" y1="435.5" x2="227.6" y2="440" stroke="#3F7D50" stroke-width="1.4"/>
<circle cx="227.3" cy="433.0" r="2.6" fill="#9B1B1E"/>
<path d="M336.90,407.50 C337.97,406.63 339.75,406.10 341.00,406.30 C342.25,406.50 343.45,407.63 344.40,408.70 C345.35,409.77 346.25,411.62 346.70,412.70 C347.15,413.78 347.38,414.63 347.10,415.20 C346.82,415.77 345.93,416.08 345.00,416.10 C344.07,416.12 342.43,414.72 341.50,415.30 C340.57,415.88 339.77,417.73 339.40,419.60 C339.03,421.47 339.42,424.67 339.30,426.50 C339.18,428.33 339.20,429.92 338.70,430.60 C338.20,431.28 336.88,431.47 336.30,430.60 C335.72,429.73 335.58,427.62 335.20,425.40 C334.82,423.18 334.10,419.62 334.00,417.30 C333.90,414.98 334.12,413.13 334.60,411.50 C335.08,409.87 335.83,408.37 336.90,407.50 Z" fill="#8DC39A" stroke="#79B287" stroke-width="0.7" stroke-linejoin="round"/>
<path d="M336.90,407.50 C337.97,406.63 339.75,406.10 341.00,406.30 C342.25,406.50 343.45,407.63 344.40,408.70 C345.35,409.77 346.25,411.62 346.70,412.70 C347.15,413.78 347.38,414.63 347.10,415.20 C346.82,415.77 345.93,416.08 345.00,416.10 C344.07,416.12 342.43,414.72 341.50,415.30 C340.57,415.88 339.77,417.73 339.40,419.60 C339.03,421.47 339.42,424.67 339.30,426.50 C339.18,428.33 339.20,429.92 338.70,430.60 C338.20,431.28 336.88,431.47 336.30,430.60 C335.72,429.73 335.58,427.62 335.20,425.40 C334.82,423.18 334.10,419.62 334.00,417.30 C333.90,414.98 334.12,413.13 334.60,411.50 C335.08,409.87 335.83,408.37 336.90,407.50 Z" fill="none" stroke="#6CA67B" stroke-width="0.9" stroke-dasharray="0.7 0.9" opacity="0.8"/>
<path d="M369.80,406.90 C370.67,406.33 372.15,405.60 373.30,405.80 C374.45,406.00 375.65,406.77 376.70,408.10 C377.75,409.43 378.83,411.68 379.60,413.80 C380.37,415.92 380.72,418.87 381.30,420.80 C381.88,422.73 382.90,424.15 383.10,425.40 C383.30,426.65 382.98,427.82 382.50,428.30 C382.02,428.78 380.88,429.17 380.20,428.30 C379.52,427.43 379.02,424.90 378.40,423.10 C377.78,421.30 377.27,418.92 376.50,417.50 C375.73,416.08 374.72,414.92 373.80,414.60 C372.88,414.28 371.95,415.35 371.00,415.60 C370.05,415.85 368.75,416.58 368.10,416.10 C367.45,415.62 367.10,413.85 367.10,412.70 C367.10,411.55 367.65,410.17 368.10,409.20 C368.55,408.23 368.93,407.47 369.80,406.90 Z" fill="#8DC39A" stroke="#79B287" stroke-width="0.7" stroke-linejoin="round"/>
<path d="M369.80,406.90 C370.67,406.33 372.15,405.60 373.30,405.80 C374.45,406.00 375.65,406.77 376.70,408.10 C377.75,409.43 378.83,411.68 379.60,413.80 C380.37,415.92 380.72,418.87 381.30,420.80 C381.88,422.73 382.90,424.15 383.10,425.40 C383.30,426.65 382.98,427.82 382.50,428.30 C382.02,428.78 380.88,429.17 380.20,428.30 C379.52,427.43 379.02,424.90 378.40,423.10 C377.78,421.30 377.27,418.92 376.50,417.50 C375.73,416.08 374.72,414.92 373.80,414.60 C372.88,414.28 371.95,415.35 371.00,415.60 C370.05,415.85 368.75,416.58 368.10,416.10 C367.45,415.62 367.10,413.85 367.10,412.70 C367.10,411.55 367.65,410.17 368.10,409.20 C368.55,408.23 368.93,407.47 369.80,406.90 Z" fill="none" stroke="#6CA67B" stroke-width="0.9" stroke-dasharray="0.7 0.9" opacity="0.8"/>
<path d="M338.70,418.60 C339.13,418.05 340.50,415.78 341.30,415.30 C342.10,414.82 343.13,415.63 343.50,415.70 " stroke="#55308F" stroke-width="1.3" fill="none"/>
<path d="M371.30,415.00 C371.72,414.87 372.98,413.98 373.80,414.20 C374.62,414.42 375.80,415.95 376.20,416.30 " stroke="#55308F" stroke-width="1.3" fill="none"/>
<circle cx="352.5" cy="409.0" r="2.35" fill="#9B1B1E"/>
<circle cx="359.8" cy="413.8" r="2.35" fill="#9B1B1E"/>
<circle cx="358.8" cy="423.1" r="2.35" fill="#9B1B1E"/>
<path d="M410.00,406.20 C410.93,406.02 412.37,406.33 413.80,406.80 C415.23,407.27 417.43,408.27 418.60,409.00 C419.77,409.73 420.53,410.57 420.80,411.20 C421.07,411.83 420.75,412.43 420.20,412.80 C419.65,413.17 418.28,413.07 417.50,413.40 C416.72,413.73 415.82,414.00 415.50,414.80 C415.18,415.60 415.08,417.02 415.60,418.20 C416.12,419.38 417.60,420.57 418.60,421.90 C419.60,423.23 421.10,425.12 421.60,426.20 C422.10,427.28 422.00,427.95 421.60,428.40 C421.20,428.85 420.05,429.35 419.20,428.90 C418.35,428.45 417.50,426.95 416.50,425.70 C415.50,424.45 414.28,422.65 413.20,421.40 C412.12,420.15 410.90,419.37 410.00,418.20 C409.10,417.03 408.25,415.57 407.80,414.40 C407.35,413.23 407.23,412.28 407.30,411.20 C407.37,410.12 407.75,408.73 408.20,407.90 C408.65,407.07 409.07,406.38 410.00,406.20 Z" fill="#8DC39A" stroke="#79B287" stroke-width="0.7" stroke-linejoin="round"/>
<path d="M410.00,406.20 C410.93,406.02 412.37,406.33 413.80,406.80 C415.23,407.27 417.43,408.27 418.60,409.00 C419.77,409.73 420.53,410.57 420.80,411.20 C421.07,411.83 420.75,412.43 420.20,412.80 C419.65,413.17 418.28,413.07 417.50,413.40 C416.72,413.73 415.82,414.00 415.50,414.80 C415.18,415.60 415.08,417.02 415.60,418.20 C416.12,419.38 417.60,420.57 418.60,421.90 C419.60,423.23 421.10,425.12 421.60,426.20 C422.10,427.28 422.00,427.95 421.60,428.40 C421.20,428.85 420.05,429.35 419.20,428.90 C418.35,428.45 417.50,426.95 416.50,425.70 C415.50,424.45 414.28,422.65 413.20,421.40 C412.12,420.15 410.90,419.37 410.00,418.20 C409.10,417.03 408.25,415.57 407.80,414.40 C407.35,413.23 407.23,412.28 407.30,411.20 C407.37,410.12 407.75,408.73 408.20,407.90 C408.65,407.07 409.07,406.38 410.00,406.20 Z" fill="none" stroke="#6CA67B" stroke-width="0.9" stroke-dasharray="0.7 0.9" opacity="0.8"/>
<path d="M452.50,413.20 C453.68,411.82 456.17,408.97 457.40,408.30 C458.63,407.63 459.10,408.58 459.90,409.20 C460.70,409.82 461.65,410.95 462.20,412.00 C462.75,413.05 463.10,414.15 463.20,415.50 C463.30,416.85 463.05,418.38 462.80,420.10 C462.55,421.82 462.08,424.08 461.70,425.80 C461.32,427.52 460.98,429.10 460.50,430.40 C460.02,431.70 459.47,433.15 458.80,433.60 C458.13,434.05 456.98,433.82 456.50,433.10 C456.02,432.38 455.92,430.98 455.90,429.30 C455.88,427.62 456.18,424.45 456.40,423.00 C456.62,421.55 457.28,421.40 457.20,420.60 C457.12,419.80 456.40,418.70 455.90,418.20 C455.40,417.70 454.77,417.62 454.20,417.60 C453.63,417.58 453.13,418.07 452.50,418.10 C451.87,418.13 450.77,418.05 450.40,417.80 C450.03,417.55 449.95,417.37 450.30,416.60 C450.65,415.83 451.32,414.58 452.50,413.20 Z" fill="#8DC39A" stroke="#79B287" stroke-width="0.7" stroke-linejoin="round"/>
<path d="M452.50,413.20 C453.68,411.82 456.17,408.97 457.40,408.30 C458.63,407.63 459.10,408.58 459.90,409.20 C460.70,409.82 461.65,410.95 462.20,412.00 C462.75,413.05 463.10,414.15 463.20,415.50 C463.30,416.85 463.05,418.38 462.80,420.10 C462.55,421.82 462.08,424.08 461.70,425.80 C461.32,427.52 460.98,429.10 460.50,430.40 C460.02,431.70 459.47,433.15 458.80,433.60 C458.13,434.05 456.98,433.82 456.50,433.10 C456.02,432.38 455.92,430.98 455.90,429.30 C455.88,427.62 456.18,424.45 456.40,423.00 C456.62,421.55 457.28,421.40 457.20,420.60 C457.12,419.80 456.40,418.70 455.90,418.20 C455.40,417.70 454.77,417.62 454.20,417.60 C453.63,417.58 453.13,418.07 452.50,418.10 C451.87,418.13 450.77,418.05 450.40,417.80 C450.03,417.55 449.95,417.37 450.30,416.60 C450.65,415.83 451.32,414.58 452.50,413.20 Z" fill="none" stroke="#6CA67B" stroke-width="0.9" stroke-dasharray="0.7 0.9" opacity="0.8"/>
<path d="M409.60,406.30 C410.30,406.40 412.30,406.42 413.80,406.90 C415.30,407.38 417.43,408.45 418.60,409.20 C419.77,409.95 420.43,411.03 420.80,411.40 " stroke="#2F6A42" stroke-width="1.3" fill="none" stroke-linecap="round"/>
<path d="M450.30,416.60 C450.67,416.05 451.32,414.65 452.50,413.30 C453.68,411.95 456.58,409.30 457.40,408.50 " stroke="#2F6A42" stroke-width="1.3" fill="none" stroke-linecap="round"/>
<path d="M417.60,413.60 C417.27,413.82 415.95,414.13 415.60,414.90 C415.25,415.67 415.52,417.65 415.50,418.20 " stroke="#55308F" stroke-width="1.3" fill="none"/>
<path d="M454.20,417.60 C454.48,417.68 455.35,417.58 455.90,418.10 C456.45,418.62 457.23,420.27 457.50,420.70 " stroke="#55308F" stroke-width="1.3" fill="none"/>
<ellipse cx="428.7" cy="411" rx="3.7" ry="4.0" transform="rotate(30 428.7 411)" fill="#AA84CE" stroke="#8A58B2" stroke-width="1.0"/>
<ellipse cx="430.9" cy="410.7" rx="1.5" ry="0.9" transform="rotate(60 430.9 410.7)" fill="#A0101A"/>
<ellipse cx="442.5" cy="408.3" rx="3.8" ry="4.0" transform="rotate(-20 442.5 408.3)" fill="#AA84CE" stroke="#8A58B2" stroke-width="1.0"/>
<ellipse cx="440.1" cy="408.0" rx="1.5" ry="0.9" transform="rotate(10 440.1 408.0)" fill="#A0101A"/>
<ellipse cx="439.8" cy="418.0" rx="4.1000000000000005" ry="3.4000000000000004" transform="rotate(0 439.8 418.0)" fill="#AA84CE" stroke="#8A58B2" stroke-width="1.0"/>
<ellipse cx="440.3" cy="420.1" rx="1.5" ry="0.9" transform="rotate(30 440.3 420.1)" fill="#A0101A"/>
<path d="M221.79999999999998,440.2 L228.0,447.6 L231.2,455.3 L233.1,459.4 L231.39999999999998,463.5 L228.39999999999998,470.2 L224.5,478.8" fill="none" stroke="#3B70B5" stroke-width="6.6" stroke-linecap="round" stroke-linejoin="round"/>
<path d="M234.6,440.2 L228.39999999999998,447.6 L225.2,455.3 L223.29999999999998,459.4 L225.0,463.5 L228.0,470.2 L231.89999999999998,478.8" fill="none" stroke="#3B70B5" stroke-width="6.6" stroke-linecap="round" stroke-linejoin="round"/>
<path d="M228.2,455.9 L230.1,459.4 L228.2,463.0 L226.29999999999998,459.4 Z" fill="#fff"/>
<rect x="225.80" y="478.00" width="1.60" height="21.00" fill="#3B70B5"/>
<rect x="229.10" y="478.00" width="1.60" height="21.00" fill="#3B70B5"/>
<rect x="224.1" y="498.1" width="3.3" height="15.0" rx="1.3" fill="#3B70B5"/>
<rect x="229.1" y="498.1" width="3.3" height="15.0" rx="1.3" fill="#3B70B5"/>
<path d="M281.0,440.2 L287.2,447.6 L290.4,455.3 L292.29999999999995,459.4 L290.59999999999997,463.5 L287.59999999999997,470.2 L283.7,478.8" fill="none" stroke="#3B70B5" stroke-width="6.6" stroke-linecap="round" stroke-linejoin="round"/>
<path d="M293.79999999999995,440.2 L287.59999999999997,447.6 L284.4,455.3 L282.5,459.4 L284.2,463.5 L287.2,470.2 L291.09999999999997,478.8" fill="none" stroke="#3B70B5" stroke-width="6.6" stroke-linecap="round" stroke-linejoin="round"/>
<path d="M287.4,455.9 L289.29999999999995,459.4 L287.4,463.0 L285.5,459.4 Z" fill="#fff"/>
<rect x="285.00" y="478.00" width="1.60" height="21.00" fill="#3B70B5"/>
<rect x="288.30" y="478.00" width="1.60" height="21.00" fill="#3B70B5"/>
<rect x="283.29999999999995" y="498.1" width="3.3" height="15.0" rx="1.3" fill="#3B70B5"/>
<rect x="288.29999999999995" y="498.1" width="3.3" height="15.0" rx="1.3" fill="#3B70B5"/>
<path d="M353.20000000000005,440.2 L359.40000000000003,447.6 L362.6,455.3 L364.5,459.4 L362.8,463.5 L359.8,470.2 L355.90000000000003,478.8" fill="none" stroke="#3B70B5" stroke-width="6.6" stroke-linecap="round" stroke-linejoin="round"/>
<path d="M366.0,440.2 L359.8,447.6 L356.6,455.3 L354.70000000000005,459.4 L356.40000000000003,463.5 L359.40000000000003,470.2 L363.3,478.8" fill="none" stroke="#3B70B5" stroke-width="6.6" stroke-linecap="round" stroke-linejoin="round"/>
<path d="M359.6,455.9 L361.5,459.4 L359.6,463.0 L357.70000000000005,459.4 Z" fill="#fff"/>
<rect x="357.20" y="478.00" width="1.60" height="21.00" fill="#3B70B5"/>
<rect x="360.50" y="478.00" width="1.60" height="21.00" fill="#3B70B5"/>
<rect x="355.5" y="498.1" width="3.3" height="15.0" rx="1.3" fill="#3B70B5"/>
<rect x="360.5" y="498.1" width="3.3" height="15.0" rx="1.3" fill="#3B70B5"/>
<path d="M425.5,440.2 L431.7,447.6 L434.9,455.3 L436.79999999999995,459.4 L435.09999999999997,463.5 L432.09999999999997,470.2 L428.2,478.8" fill="none" stroke="#3B70B5" stroke-width="6.6" stroke-linecap="round" stroke-linejoin="round"/>
<path d="M438.29999999999995,440.2 L432.09999999999997,447.6 L428.9,455.3 L427.0,459.4 L428.7,463.5 L431.7,470.2 L435.59999999999997,478.8" fill="none" stroke="#3B70B5" stroke-width="6.6" stroke-linecap="round" stroke-linejoin="round"/>
<path d="M431.9,455.9 L433.79999999999995,459.4 L431.9,463.0 L430.0,459.4 Z" fill="#fff"/>
<rect x="429.50" y="478.00" width="1.60" height="21.00" fill="#3B70B5"/>
<rect x="432.80" y="478.00" width="1.60" height="21.00" fill="#3B70B5"/>
<rect x="427.79999999999995" y="498.1" width="3.3" height="15.0" rx="1.3" fill="#3B70B5"/>
<rect x="432.79999999999995" y="498.1" width="3.3" height="15.0" rx="1.3" fill="#3B70B5"/>
<path d="M219.6,437.2 Q221.5,435.6 223.4,436.6" stroke="#55308F" stroke-width="1.3" fill="none"/>
<path d="M232.0,436.6 Q233.9,435.6 235.8,437.2" stroke="#55308F" stroke-width="1.3" fill="none"/>
<text transform="translate(215.4,438.4) rotate(-62)" font-size="6.8" fill="#000" text-anchor="middle" dominant-baseline="central" textLength="16.5" lengthAdjust="spacingAndGlyphs">CALR</text>
<text transform="translate(240.3,438.1) rotate(58)" font-size="6.8" fill="#000" text-anchor="middle" dominant-baseline="central" textLength="17" lengthAdjust="spacingAndGlyphs">CALR</text>
<text x="180.5" y="408.5" font-size="8.9" text-anchor="middle" font-weight="normal" fill="#000" >histidine-</text>
<text x="180.5" y="419.9" font-size="8.9" text-anchor="middle" font-weight="normal" fill="#000" >containing</text>
<text x="180.5" y="431.1" font-size="8.9" text-anchor="middle" font-weight="normal" fill="#000" >multimerization</text>
<text x="180.5" y="442.3" font-size="8.9" text-anchor="middle" font-weight="normal" fill="#000" >motif</text>
<text x="220.0" y="411.2" font-size="9" text-anchor="start" font-weight="normal" fill="#000" >Zn</text>
<text x="230.3" y="408.3" font-size="6.5" text-anchor="start" font-weight="normal" fill="#000" >2+</text>
<text x="197" y="470" font-size="9.2" text-anchor="start" font-weight="normal" fill="#000" textLength="22.4" lengthAdjust="spacingAndGlyphs" >lectin</text>
<text x="198.8" y="480.9" font-size="9.2" text-anchor="start" font-weight="normal" fill="#000" textLength="18.4" lengthAdjust="spacingAndGlyphs" >motif</text>
<text x="235.3" y="473.4" font-size="9.5" text-anchor="start" font-weight="normal" fill="#000" textLength="19.2" lengthAdjust="spacingAndGlyphs" >MPL</text>
<text x="208.2" y="546.7" font-size="9.4" text-anchor="start" font-weight="normal" fill="#000" textLength="37.5" lengthAdjust="spacingAndGlyphs" >JAK-STAT</text>
<text x="267.2" y="434.4" font-size="9" text-anchor="start" font-weight="normal" fill="#000" textLength="41.3" lengthAdjust="spacingAndGlyphs" >no binding</text>
<text x="340.6" y="434.6" font-size="9" text-anchor="start" font-weight="normal" fill="#000" textLength="41.3" lengthAdjust="spacingAndGlyphs" >no binding</text>
<text x="412.2" y="435.5" font-size="9" text-anchor="start" font-weight="normal" fill="#000" textLength="41.6" lengthAdjust="spacingAndGlyphs" >no binding</text>
<line x1="204.5" y1="417.9" x2="221.09971195970763" y2="426.68808280219815" stroke="#111" stroke-width="1.25"/>
<path d="M224.90,428.70 L220.12,428.54 L222.08,424.83 Z" fill="#111"/>
<line x1="227.5" y1="414.5" x2="227.5" y2="424.0" stroke="#111" stroke-width="1.25"/>
<path d="M227.50,428.30 L225.40,424.00 L229.60,424.00 Z" fill="#111"/>
<line x1="213.8" y1="460.0" x2="220.11481462100096" y2="441.38791480126037" stroke="#111" stroke-width="1.0"/>
<path d="M221.40,437.60 L221.82,441.97 L218.41,440.81 Z" fill="#111"/>
<line x1="227.0" y1="517.2" x2="227.0" y2="531.0" stroke="#111" stroke-width="1.2"/>
<path d="M227.00,535.00 L225.20,531.00 L228.80,531.00 Z" fill="#111"/>
<path d="M0.75,0 V557 M0,0.75 H520 M519.2,0 V557 M0,556.2 H520" stroke="#000" stroke-width="1.6" fill="none"/>
</svg>
</body></html>
